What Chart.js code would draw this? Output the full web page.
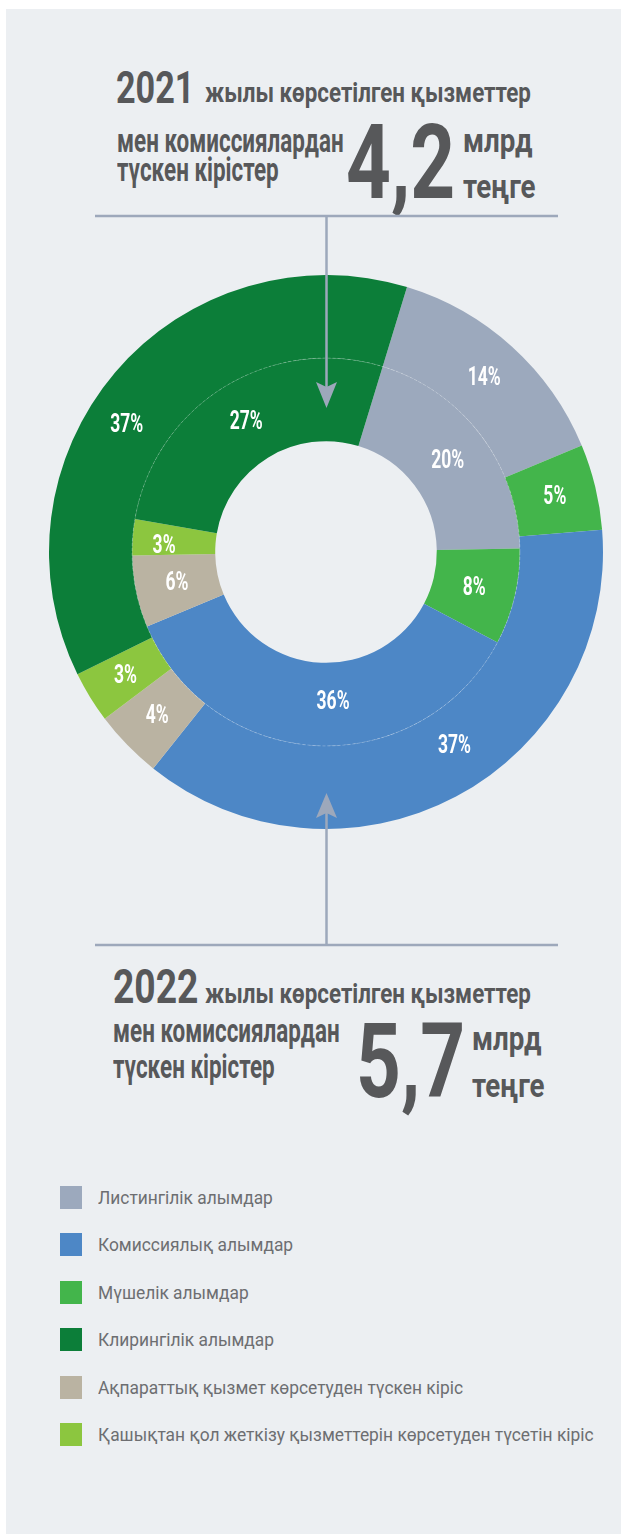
<!DOCTYPE html>
<html>
<head>
<meta charset="utf-8">
<title>Көрсетілген қызметтер мен комиссиялардан түскен кірістер</title>
<script src="https://cdn.jsdelivr.net/npm/chart.js"></script>
<style>
  body { margin: 0; background: #fff; }
  #page { position: relative; width: 621px; height: 1534px; overflow: hidden; font-family: Roboto, "DejaVu Sans", sans-serif; }
  #panel { position: absolute; left: 6px; top: 9px; right: 0; bottom: 0; background: #ECEFF2; }
  .t { position: absolute; white-space: nowrap; color: #57585A; font-weight: 700; transform-origin: 0 0; line-height: 1; }
  .year { font-size: 45px; transform: scaleX(0.76); }
  .line { font-size: 28px; transform: scaleX(0.8); }
  .line2 { font-size: 33px; transform: scaleX(0.68); }
  .unit { font-size: 33px; transform: scaleX(0.84); }
  .big { font-size: 103px; transform: scaleX(0.76); }
  #chartBox { position: absolute; left: 46px; top: 272px; width: 560px; height: 560px; }
  #arrows { position: absolute; left: 0; top: 0; z-index: 2; pointer-events: none; }
  #legend { position: absolute; left: 60px; top: 1186px; }
  .item { position: relative; height: 23px; margin-bottom: 24.4px; }
  .swatch { position: absolute; left: 0; top: 0; width: 22px; height: 23px; }
  .label { position: absolute; left: 38px; top: 1px; font-size: 18px; line-height: 21px; color: #6D6E71; white-space: nowrap; transform-origin: 0 0; transform: scaleX(0.965); }
</style>
</head>
<body>
<div id="page">
  <div id="panel"></div>

  <!-- 2021 -->
  <div class="t year" style="left:116px; top:65px;">2021</div>
  <div class="t line" style="left:205px; top:79px;">жылы көрсетілген қызметтер</div>
  <div class="t line2" style="left:117px; top:124px;">мен комиссиялардан</div>
  <div class="t line2" style="left:117px; top:153px;">түскен кірістер</div>
  <div class="t big" style="left:346px; top:111px;">4,2</div>
  <div class="t unit" style="left:463px; top:124px;">млрд</div>
  <div class="t unit" style="left:463px; top:170px;">теңге</div>

  <!-- 2022 -->
  <div class="t year" style="left:113px; top:962px; font-size:49px;">2022</div>
  <div class="t line" style="left:205px; top:980px;">жылы көрсетілген қызметтер</div>
  <div class="t line2" style="left:113px; top:1014px;">мен комиссиялардан</div>
  <div class="t line2" style="left:113px; top:1050px;">түскен кірістер</div>
  <div class="t big" style="left:356px; top:1010px;">5,7</div>
  <div class="t unit" style="left:472px; top:1022px;">млрд</div>
  <div class="t unit" style="left:472px; top:1069px;">теңге</div>

  <div id="chartBox"><canvas id="ring"></canvas></div>

  <svg id="arrows" width="621" height="1534">
    <g stroke="#9DA8BB" stroke-width="2.5" fill="none">
      <line x1="95" y1="216" x2="558" y2="216"/>
      <line x1="326.5" y1="216" x2="326.5" y2="392"/>
      <line x1="95" y1="945" x2="558" y2="945"/>
      <line x1="326.5" y1="945" x2="326.5" y2="810"/>
    </g>
    <g fill="#9DA8BB">
      <polygon points="316,382 326.5,408 337,382 326.5,387"/>
      <polygon points="316,818 326.5,793 337,818 326.5,813"/>
    </g>
  </svg>

  <div id="legend"></div>
</div>

<script>
  // legend order
  const categories = [
    'Листингілік алымдар',
    'Комиссиялық алымдар',
    'Мүшелік алымдар',
    'Клирингілік алымдар',
    'Ақпараттық қызмет көрсетуден түскен кіріс',
    'Қашықтан қол жеткізу қызметтерін көрсетуден түсетін кіріс'
  ];
  const colors = ['#9CA9BD', '#4D87C6', '#43B54B', '#0C7E39', '#BAB3A2', '#8CC63F'];

  // shares, %
  const share2021 = [20, 36, 8, 27, 6, 3];
  const share2022 = [14, 37, 5, 37, 4, 3];

  // clockwise order of the slices around the ring
  const sliceOrder = [0, 2, 1, 4, 5, 3];

  const pick = arr => sliceOrder.map(i => arr[i]);

  // a few labels sit off the slice centre: [dataset, slice] -> shift in px
  const labelShift = {
    '0-2': [18, -14],
    '0-5': [-20, 25],
    '1-2': [14, -2],
    '1-4': [-10, 5]
  };

  // white percentage labels in the middle of each slice
  const sliceLabels = {
    id: 'sliceLabels',
    afterDatasetsDraw(chart) {
      const ctx = chart.ctx;
      ctx.save();
      ctx.fillStyle = '#fff';
      ctx.font = 'bold 25px Roboto, sans-serif';
      ctx.textAlign = 'center';
      ctx.textBaseline = 'middle';
      chart.data.datasets.forEach((ds, di) => {
        chart.getDatasetMeta(di).data.forEach((arc, i) => {
          const p = arc.getCenterPoint();
          const s = labelShift[di + '-' + i] || [0, 0];
          ctx.save();
          ctx.translate(p.x + s[0], p.y + s[1]);
          ctx.scale(0.7, 1);
          ctx.fillText(ds.data[i] + '%', 0, 1);
          ctx.restore();
        });
      });
      ctx.restore();
    }
  };

  // faint line where the two rings meet
  const ringSeam = {
    id: 'ringSeam',
    afterDatasetsDraw(chart) {
      const arc = chart.getDatasetMeta(1).data[0];
      if (!arc) return;
      const ctx = chart.ctx;
      ctx.save();
      ctx.strokeStyle = 'rgba(255,255,255,0.3)';
      ctx.lineWidth = 0.8;
      ctx.setLineDash([3, 2]);
      ctx.beginPath();
      ctx.arc(arc.x, arc.y, arc.outerRadius, 0, Math.PI * 2);
      ctx.stroke();
      ctx.restore();
    }
  };

  new Chart(document.getElementById('ring'), {
    type: 'doughnut',
    data: {
      labels: pick(categories),
      datasets: [
        { label: '2022', data: pick(share2022), backgroundColor: pick(colors), borderWidth: 0 },
        { label: '2021', data: pick(share2021), backgroundColor: pick(colors), borderWidth: 0 }
      ]
    },
    options: {
      responsive: true,
      maintainAspectRatio: false,
      devicePixelRatio: 1,
      animation: false,
      rotation: 17,
      cutout: '40%',
      layout: { padding: 3 },
      plugins: {
        legend: { display: false },
        tooltip: { enabled: false }
      }
    },
    plugins: [ringSeam, sliceLabels]
  });

  // legend rows
  const legend = document.getElementById('legend');
  categories.forEach((name, i) => {
    const row = document.createElement('div');
    row.className = 'item';
    row.innerHTML = '<div class="swatch" style="background:' + colors[i] + '"></div><div class="label">' + name + '</div>';
    legend.appendChild(row);
  });
</script>
</body>
</html>
